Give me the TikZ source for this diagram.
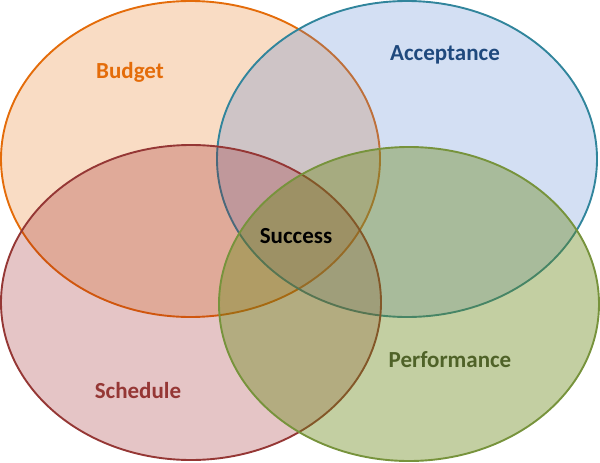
\documentclass[tikz,border=0pt]{standalone}
\usepackage{fontspec}
\setmainfont{Carlito}
\usetikzlibrary{positioning}
\definecolor{budgetLine}{HTML}{E46C0A}
\definecolor{budgetFill}{HTML}{E77313}
\definecolor{accLine}{HTML}{31859C}
\definecolor{accFill}{HTML}{4F7FCF}
\definecolor{schedLine}{HTML}{953735}
\definecolor{schedFill}{HTML}{97171B}
\definecolor{perfLine}{HTML}{77933C}
\definecolor{perfFill}{HTML}{698716}
\definecolor{accText}{HTML}{1F497D}
\definecolor{perfText}{HTML}{4F6228}
\tikzset{
  blob/.style={line width=1.9pt,fill opacity=0.25},
  lab/.style={font=\fontsize{23}{27}\selectfont\bfseries,inner sep=0pt}
}

\begin{document}
\begin{tikzpicture}[x=1pt,y=-1pt]
  \useasboundingbox (0,0) rectangle (600,463);

  \draw[blob,draw=budgetLine,fill=budgetFill] (190.5,159) ellipse [x radius=189.5,y radius=158];
  \draw[blob,draw=accLine,fill=accFill] (407,159) ellipse [x radius=190,y radius=158];
  \draw[blob,draw=schedLine,fill=schedFill] (191,302.5) ellipse [x radius=190,y radius=157.5];
  \draw[blob,draw=perfLine,fill=perfFill,fill opacity=0.4] (409,304) ellipse [x radius=190,y radius=157];

  \node[lab,text=budgetLine] (budget) at (130,72) {Budget};
  \node[lab,text=accText] (acceptance) at (445,55) {Acceptance};
  \node[lab,text=black] (success) at (296,236) {Success};
  \node[lab,text=schedLine] (schedule) at (138,391) {Schedule};
  \node[lab,text=perfText] (performance) at (450,360) {Performance};
\end{tikzpicture}
\end{document}
